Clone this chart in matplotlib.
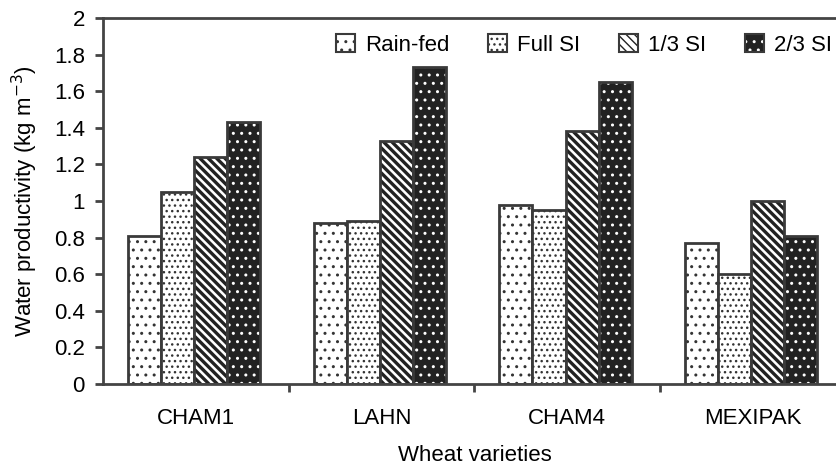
import numpy as np
import matplotlib
matplotlib.use("Agg")
import matplotlib.pyplot as plt
from matplotlib.patches import Patch

plt.rcParams['font.family'] = ['Liberation Sans', 'DejaVu Sans']
plt.rcParams['font.size'] = 16

varieties = ['CHAM1', 'LAHN', 'CHAM4', 'MEXIPAK']
series = ['Rain-fed', 'Full SI', '1/3 SI', '2/3 SI']
rainfed = [0.81, 0.88, 0.98, 0.77]
full_si = [1.05, 0.89, 0.95, 0.60]
third_si = [1.24, 1.33, 1.38, 1.00]
twothird_si = [1.43, 1.73, 1.65, 0.81]
values = [rainfed, full_si, third_si, twothird_si]

edge = '#3a3a3a'
# face, hatch, hatch colour, hatch linewidth
styles = [('white', '..', '#333333', 1.0),
          ('white', '...', '#333333', 1.0),
          ('white', '\\\\\\\\', '#222222', 2.4),
          ('#222222', '..', 'white', 1.0)]

fig = plt.figure(figsize=(8.37, 4.70), dpi=100)
ax = fig.add_axes([103/837, 1-384/470, 743/837, 366/470])

x = np.arange(len(varieties))
w = 0.178
handles = []
for i, (name, vals) in enumerate(zip(series, values)):
    face, hatch, hcol, hlw = styles[i]
    pos = x - 0.01 + (i - 1.5) * w
    hb = ax.bar(pos, vals, w, color=face, edgecolor=hcol, hatch=hatch, linewidth=0)
    for p in hb:
        try:
            p.set_hatch_linewidth(hlw)
        except AttributeError:
            pass
    ax.bar(pos, vals, w, facecolor='none', edgecolor=edge, linewidth=2)
    hp = Patch(facecolor=face, edgecolor=hcol, hatch=hatch, linewidth=0)
    try:
        hp.set_hatch_linewidth(hlw)
    except AttributeError:
        pass
    op = Patch(facecolor='none', edgecolor=edge, linewidth=1.5)
    handles.append((hp, op))

ax.set_xlim(-0.5, 3.5)
ax.set_ylim(0, 2)
ax.set_yticks(np.arange(0, 2.01, 0.2))
ax.set_yticklabels(['0', '0.2', '0.4', '0.6', '0.8', '1', '1.2', '1.4', '1.6', '1.8', '2'])
ax.set_xticks(x)
ax.set_xticklabels(varieties)
ax.set_xticks([0.5, 1.5, 2.5], minor=True)
ax.tick_params(axis='x', which='major', length=0, pad=17)
ax.tick_params(axis='x', which='minor', length=6, width=2, color='#444444', direction='out')
ax.tick_params(axis='y', length=6, width=2, color='#444444', pad=7)

for s in ax.spines.values():
    s.set_linewidth(2)
    s.set_color('#444444')

ax.set_ylabel('Water productivity (kg m$^{-3}$)', labelpad=10)
ax.set_xlabel('Wheat varieties', labelpad=12)

ax.legend(handles, series, ncol=4, frameon=False, loc='center right',
          bbox_to_anchor=(832/837, 1-45/470), bbox_transform=fig.transFigure,
          handlelength=0.85, handleheight=0.85, handletextpad=0.45,
          columnspacing=1.75, borderaxespad=0, borderpad=0)

fig.savefig('out.png', dpi=100)
